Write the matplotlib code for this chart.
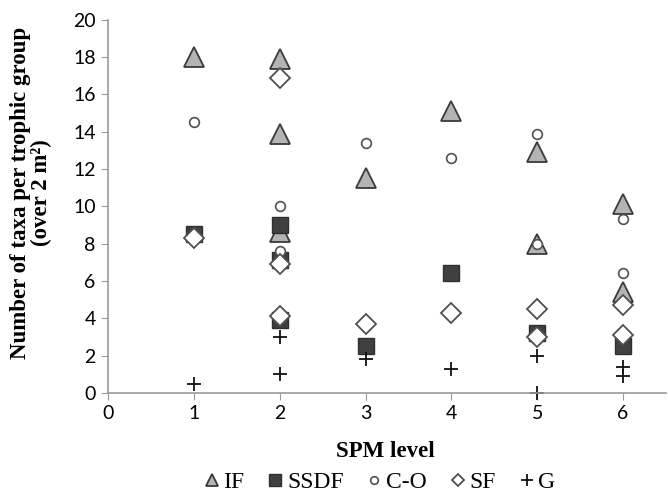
import matplotlib
matplotlib.use("Agg")
import matplotlib.pyplot as plt
from matplotlib.lines import Line2D

plt.rcParams["font.family"] = ["Liberation Serif", "DejaVu Serif"]

# Taxa per trophic group at each SPM level
if_x = [1, 2, 2, 2, 3, 4, 5, 5, 6, 6]
if_y = [18.0, 17.9, 13.9, 8.6, 11.5, 15.1, 12.9, 8.0, 10.1, 5.4]

ssdf_x = [1, 2, 2, 2, 3, 4, 5, 6]
ssdf_y = [8.5, 9.0, 7.1, 3.9, 2.5, 6.4, 3.2, 2.5]

co_x = [1, 2, 2, 3, 4, 5, 5, 6, 6]
co_y = [14.5, 10.0, 7.6, 13.4, 12.6, 13.9, 8.0, 9.3, 6.4]

sf_x = [1, 2, 2, 2, 3, 4, 5, 5, 6, 6]
sf_y = [8.3, 16.9, 6.9, 4.1, 3.7, 4.3, 4.5, 3.0, 4.7, 3.1]

g_x = [1, 2, 2, 3, 4, 5, 5, 6, 6]
g_y = [0.5, 3.0, 1.0, 1.8, 1.3, 2.0, 0.0, 1.4, 0.9]

groups = ["IF", "SSDF", "C-O", "SF", "G"]
x_ticks = [0, 1, 2, 3, 4, 5, 6]
y_ticks = [0, 2, 4, 6, 8, 10, 12, 14, 16, 18, 20]

styles = {
    "IF": dict(marker="^", mfc="#b4b4b4", mec="#3a3a3a", mew=1.3),
    "SSDF": dict(marker="s", mfc="#404040", mec="#303030", mew=1.0),
    "C-O": dict(marker="o", mfc="white", mec="#505050", mew=1.2),
    "SF": dict(marker="D", mfc="white", mec="#505050", mew=1.3),
    "G": dict(marker="+", mfc="none", mec="#111111", mew=1.3),
}
plot_sizes = {"IF": 14, "SSDF": 12, "C-O": 7, "SF": 10, "G": 10}
legend_sizes = {"IF": 9, "SSDF": 8.5, "C-O": 5.5, "SF": 6.5, "G": 9}
series = {
    "IF": (if_x, if_y),
    "SSDF": (ssdf_x, ssdf_y),
    "C-O": (co_x, co_y),
    "SF": (sf_x, sf_y),
    "G": (g_x, g_y),
}

fig = plt.figure(figsize=(6.68, 4.96), dpi=100)
ax = fig.add_axes([0.162, 0.208, 0.835, 0.752])

for name in groups:
    xs, ys = series[name]
    ax.plot(xs, ys, ls="none", ms=plot_sizes[name], clip_on=False, **styles[name])

ax.set_xlim(0, 6.5)
ax.set_ylim(0, 20)
ax.set_xticks(x_ticks)
ax.set_yticks(y_ticks)
ax.tick_params(axis="both", direction="out", length=5, color="#999999", pad=4)
for lbl in ax.get_xticklabels() + ax.get_yticklabels():
    lbl.set_fontfamily(["Lato", "DejaVu Sans"])
    lbl.set_fontsize(14)
for side in ("top", "right"):
    ax.spines[side].set_visible(False)
for side in ("left", "bottom"):
    ax.spines[side].set_color("#999999")
    ax.spines[side].set_linewidth(1.2)

# axis titles placed on the figure, as in the original layout
fig.text(0.047, 0.611, "Number of taxa per trophic group\n(over 2 m²)", rotation=90,
         ha="center", va="center", fontsize=16.5, fontweight="bold", linespacing=1.0)
fig.text(0.577, 0.09, "SPM level", ha="center", va="center", fontsize=16.5,
         fontweight="bold")

handles = [Line2D([], [], ls="none", ms=legend_sizes[n], **styles[n]) for n in groups]
fig.legend(handles, groups, loc="center", bbox_to_anchor=(0.568, 0.028), ncol=5,
           frameon=False, fontsize=17, handlelength=0.7, handletextpad=0.15,
           columnspacing=0.95, borderpad=0)

fig.savefig("out.png", dpi=100)
